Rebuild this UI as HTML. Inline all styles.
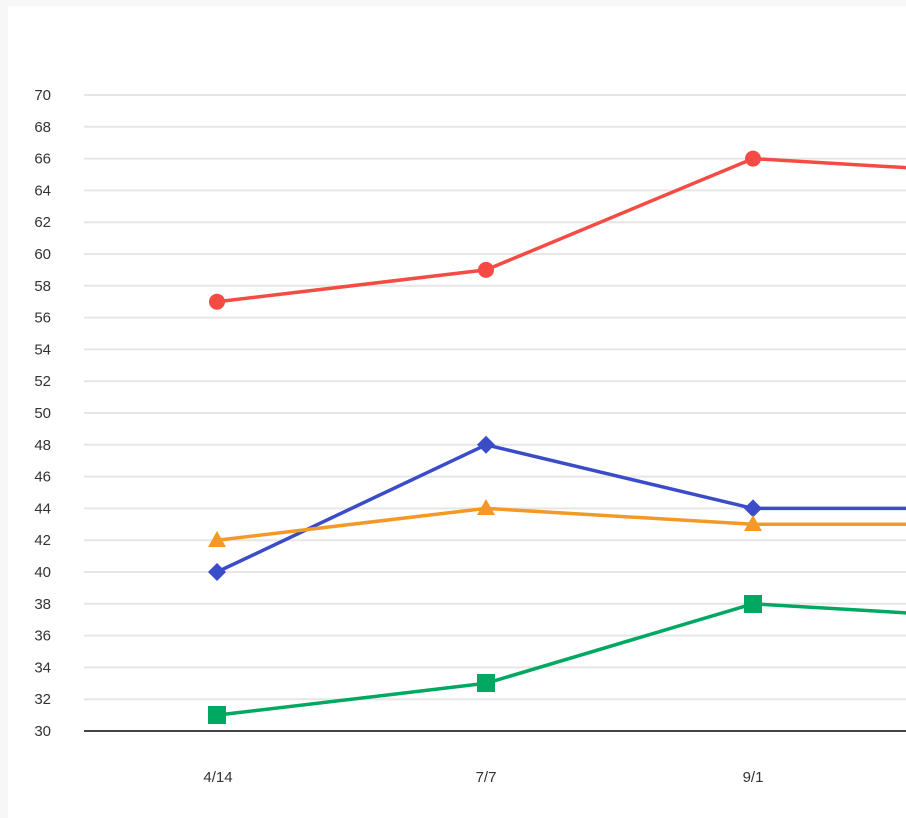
<!DOCTYPE html>
<html><head><meta charset="utf-8"><style>
html,body{margin:0;padding:0;background:#f7f7f7;width:906px;height:818px;overflow:hidden}
svg{position:absolute;left:0;top:0}
text{font-family:"Liberation Sans",Arial,sans-serif;font-size:15px;fill:#333}
</style></head><body>
<svg width="906" height="818" viewBox="0 0 906 818">
<rect x="8" y="6" width="898" height="812" fill="#fff"/>
<g stroke="#e6e6e6" stroke-width="2">
<line x1="84" x2="906" y1="95" y2="95"/><line x1="84" x2="906" y1="126.8" y2="126.8"/>
<line x1="84" x2="906" y1="158.6" y2="158.6"/><line x1="84" x2="906" y1="190.4" y2="190.4"/>
<line x1="84" x2="906" y1="222.2" y2="222.2"/><line x1="84" x2="906" y1="254" y2="254"/>
<line x1="84" x2="906" y1="285.8" y2="285.8"/><line x1="84" x2="906" y1="317.6" y2="317.6"/>
<line x1="84" x2="906" y1="349.4" y2="349.4"/><line x1="84" x2="906" y1="381.2" y2="381.2"/>
<line x1="84" x2="906" y1="413" y2="413"/><line x1="84" x2="906" y1="444.8" y2="444.8"/>
<line x1="84" x2="906" y1="476.6" y2="476.6"/><line x1="84" x2="906" y1="508.4" y2="508.4"/>
<line x1="84" x2="906" y1="540.2" y2="540.2"/><line x1="84" x2="906" y1="572" y2="572"/>
<line x1="84" x2="906" y1="603.8" y2="603.8"/><line x1="84" x2="906" y1="635.6" y2="635.6"/>
<line x1="84" x2="906" y1="667.4" y2="667.4"/><line x1="84" x2="906" y1="699.2" y2="699.2"/>
</g>
<line x1="84" x2="906" y1="731" y2="731" stroke="#444" stroke-width="2"/>
<g text-anchor="end">
<text x="51" y="100">70</text><text x="51" y="131.8">68</text><text x="51" y="163.6">66</text>
<text x="51" y="195.4">64</text><text x="51" y="227.2">62</text><text x="51" y="259">60</text>
<text x="51" y="290.8">58</text><text x="51" y="322.6">56</text><text x="51" y="354.4">54</text>
<text x="51" y="386.2">52</text><text x="51" y="418">50</text><text x="51" y="449.8">48</text>
<text x="51" y="481.6">46</text><text x="51" y="513.4">44</text><text x="51" y="545.2">42</text>
<text x="51" y="577">40</text><text x="51" y="608.8">38</text><text x="51" y="640.6">36</text>
<text x="51" y="672.4">34</text><text x="51" y="704.2">32</text><text x="51" y="736">30</text>
</g>
<g text-anchor="middle">
<text x="218" y="782">4/14</text><text x="486" y="782">7/7</text><text x="753" y="782">9/1</text>
</g>
<g fill="none" stroke-width="3.5" stroke-linejoin="round">
<polyline stroke="#f44c44" points="217,301.7 486,269.9 753,158.6 1021,174.5"/>
<polyline stroke="#3b4cc9" points="217,572 486,444.8 753,508.4 1021,508.4"/>
<polyline stroke="#f39a26" points="217,540.2 486,508.4 753,524.3 1021,524.3"/>
<polyline stroke="#00a862" points="217,715.1 486,683.3 753,603.8 1021,619.7"/>
</g>
<g fill="#f44c44"><circle cx="217" cy="301.7" r="8"/><circle cx="486" cy="269.9" r="8"/><circle cx="753" cy="158.6" r="8"/></g>
<g fill="#3b4cc9"><polygon points="217,563 226,572 217,581 208,572"/><polygon points="486,435.8 495,444.8 486,453.8 477,444.8"/><polygon points="753,499.4 762,508.4 753,517.4 744,508.4"/></g>
<g fill="#f39a26"><polygon points="217,531 226,547 208,547"/><polygon points="486,499 495,515 477,515"/><polygon points="753,515 762,531 744,531"/></g>
<g fill="#00a862"><rect x="208" y="706" width="18" height="18"/><rect x="477" y="674" width="18" height="18"/><rect x="744" y="595" width="18" height="18"/></g>
</svg>
</body></html>
